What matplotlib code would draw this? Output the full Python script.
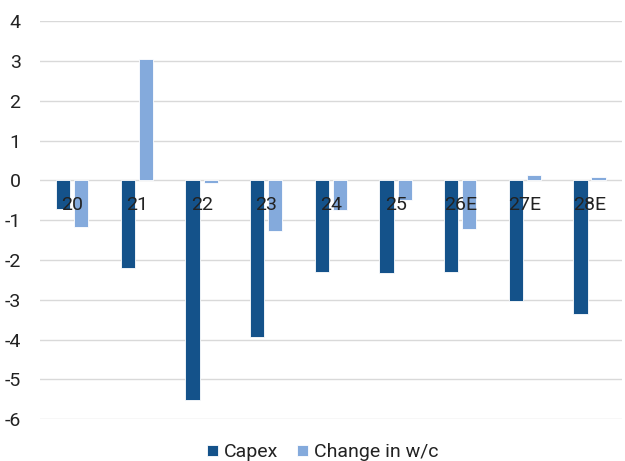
import matplotlib.pyplot as plt
import numpy as np

plt.rcParams['font.family'] = ['Roboto', 'DejaVu Sans']
plt.rcParams['axes.unicode_minus'] = False

# Data
years = ['20', '21', '22', '23', '24', '25', '26E', '27E', '28E']
capex = [-0.71, -2.19, -5.51, -3.94, -2.29, -2.32, -2.29, -3.03, -3.36]
change_wc = [-1.16, 3.05, -0.07, -1.27, -0.75, -0.49, -1.21, 0.13, 0.08]

fig = plt.figure(figsize=(6.25, 4.61), dpi=100)
ax = fig.add_axes([0.064, 0.0904, 0.931, 0.864])

x = np.arange(len(years))
w = 0.22
ax.bar(x - 0.14, capex, w, color='#14528A', edgecolor='white', linewidth=0.6, label='Capex', zorder=2)
ax.bar(x + 0.14, change_wc, w, color='#84AADC', edgecolor='white', linewidth=0.6, label='Change in w/c', zorder=2)

# category labels sit just under the zero line
for xi, lab in zip(x, years):
    ax.text(xi, -0.63, lab, ha='center', va='center', fontsize=14, color='#222222', zorder=3)

ax.set_xlim(-0.5, len(years) - 0.5)
ax.set_ylim(-6, 4)
ax.set_yticks(range(-6, 5))
ax.set_xticks([])
ax.tick_params(axis='y', length=0, labelsize=14, labelcolor='#222222', pad=14)
ax.grid(axis='y', color='#d9d9d9', linewidth=1, zorder=0)
for s in ax.spines.values():
    s.set_visible(False)

ax.legend(loc='center', bbox_to_anchor=(0.486, -0.083), ncol=2, frameon=False,
          fontsize=14, handlelength=0.55, handleheight=0.55, handletextpad=0.3,
          columnspacing=1.0, labelcolor='#222222', borderpad=0)

fig.savefig('out.png', dpi=100)
